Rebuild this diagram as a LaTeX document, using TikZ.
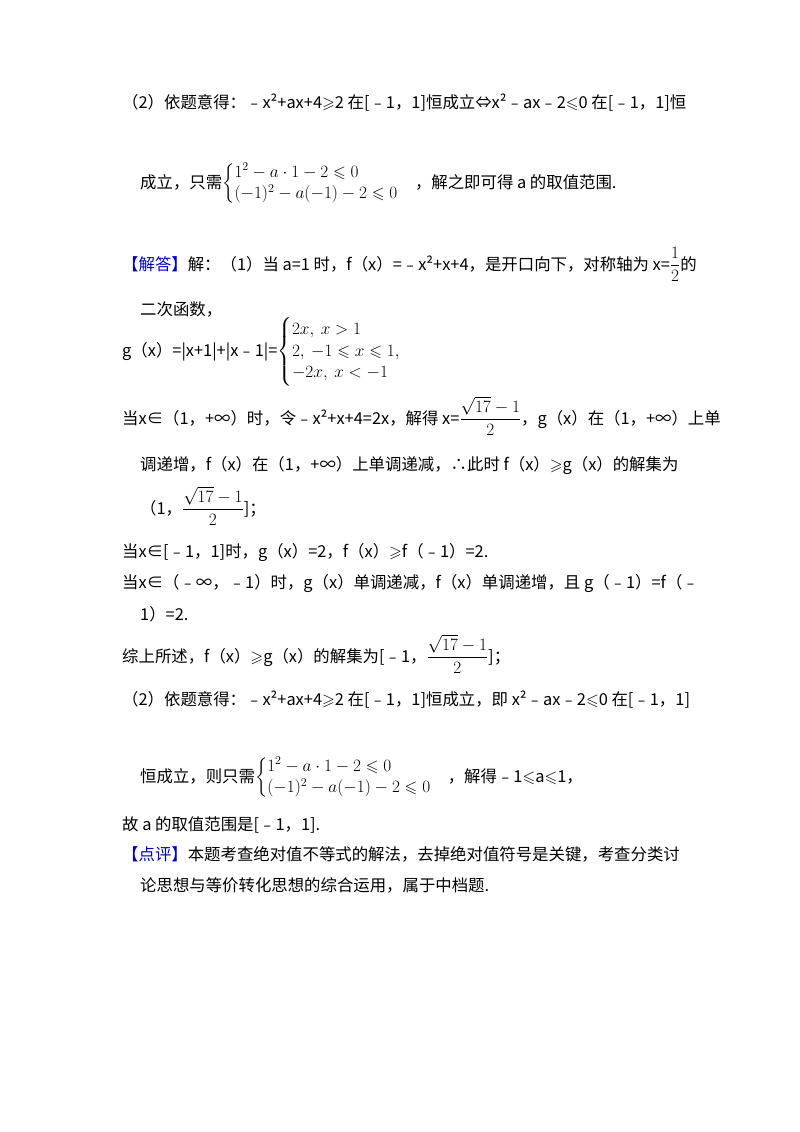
\documentclass[tikz,border=0pt]{standalone}
\usepackage{amsmath,amssymb}
\usepackage{fontspec}
\setmainfont{Noto Sans CJK SC}
\newcommand{\myge}{$\geqslant$}
\newcommand{\myle}{$\leqslant$}
\begin{document}
\begin{tikzpicture}[x=1pt,y=-1pt,
  t/.style={anchor=base west,inner sep=0pt,font=\fontsize{16.4}{18}\selectfont}]
\useasboundingbox (0,0) rectangle (800,1132);
\fill[white] (0,0) rectangle (800,1132);
\node[t] (l1) at (122,108) {（2）依题意得：﹣x²+ax+4\myge2 在[﹣1，1]恒成立⇔x²﹣ax﹣2\myle0 在[﹣1，1]恒};
\node[t] (l2) at (140,188) {成立，只需$\begin{cases}1^2-a\cdot 1-2\leqslant 0\\(-1)^2-a(-1)-2\leqslant 0\end{cases}$，解之即可得 a 的取值范围.};
\node[t] (l3) at (122,270) {\textcolor{blue!75!black}{【解答】}解：（1）当 a=1 时，f（x）=﹣x²+x+4，是开口向下，对称轴为 x=$\dfrac12$的};
\node[t] (l4) at (140,315) {二次函数，};
\node[t] (l5) at (122,356) {g（x）=|x+1|+|x﹣1|=$\begin{cases}2x,\ x>1\\2,\ -1\leqslant x\leqslant 1,\\-2x,\ x<-1\end{cases}$};
\node[t] (l6) at (122,424) {当x∈（1，+∞）时，令﹣x²+x+4=2x，解得 x=$\dfrac{\sqrt{17}-1}{2}$，g（x）在（1，+∞）上单};
\node[t] (l7) at (140,470) {调递增，f（x）在（1，+∞）上单调递减，∴此时 f（x）\myge g（x）的解集为};
\node[t] (l8) at (140,514) {（1，$\dfrac{\sqrt{17}-1}{2}$]；};
\node[t] (l9) at (122,557) {当x∈[﹣1，1]时，g（x）=2，f（x）\myge f（﹣1）=2.};
\node[t] (l10) at (122,588) {当x∈（﹣∞，﹣1）时，g（x）单调递减，f（x）单调递增，且 g（﹣1）=f（﹣};
\node[t] (l11) at (140,620) {1）=2.};
\node[t] (l12) at (122,662) {综上所述，f（x）\myge g（x）的解集为[﹣1，$\dfrac{\sqrt{17}-1}{2}$]；};
\node[t] (l13) at (122,705) {（2）依题意得：﹣x²+ax+4\myge2 在[﹣1，1]恒成立，即 x²﹣ax﹣2\myle0 在[﹣1，1]};
\node[t] (l14) at (140,782) {恒成立，则只需$\begin{cases}1^2-a\cdot 1-2\leqslant 0\\(-1)^2-a(-1)-2\leqslant 0\end{cases}$，解得﹣1\myle a\myle1，};
\node[t] (l15) at (122,830) {故 a 的取值范围是[﹣1，1].};
\node[t] (l16) at (122,860) {\textcolor{blue!75!black}{【点评】}本题考查绝对值不等式的解法，去掉绝对值符号是关键，考查分类讨};
\node[t] (l17) at (140,891) {论思想与等价转化思想的综合运用，属于中档题.};
\end{tikzpicture}
\end{document}
